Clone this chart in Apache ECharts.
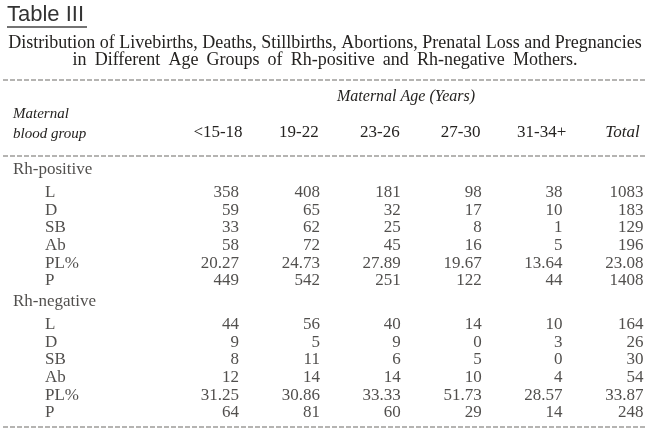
<!DOCTYPE html>
<html>
<head>
<meta charset="utf-8">
<script src="https://cdn.jsdelivr.net/npm/echarts@6/dist/echarts.min.js"></script>
<style>html,body{margin:0;padding:0;background:#fff}#c{width:650px;height:444px}</style>
</head>
<body>
<div id="c"></div>
<script>
// Table III — livebirths, deaths, stillbirths, abortions, prenatal loss, pregnancies by age & Rh
const ageGroups = ['<15-18','19-22','23-26','27-30','31-34+','Total'];
const measures = ['L','D','SB','Ab','PL%','P'];
const bloodGroups = ['Rh-positive','Rh-negative'];

const posL  = [358,408,181,98,38,1083];
const posD  = [59,65,32,17,10,183];
const posSB = [33,62,25,8,1,129];
const posAb = [58,72,45,16,5,196];
const posPL = [20.27,24.73,27.89,19.67,13.64,23.08];
const posP  = [449,542,251,122,44,1408];

const negL  = [44,56,40,14,10,164];
const negD  = [9,5,9,0,3,26];
const negSB = [8,11,6,5,0,30];
const negAb = [12,14,14,10,4,54];
const negPL = [31.25,30.86,33.33,51.73,28.57,33.87];
const negP  = [64,81,60,29,14,248];

const rows = [[posL,posD,posSB,posAb,posPL,posP],[negL,negD,negSB,negAb,negPL,negP]];

const INK = '#252321', SERIF = 'Liberation Serif, Times New Roman, serif';
// row layout in "row units": heading, small gap, then the six measures
const GROUP_STEP = 7.46, HEAD_GAP = 1.27;
const rowY = (g,k) => g*GROUP_STEP + (k<0 ? 0 : HEAD_GAP + k);
const fmtv = (m,v) => m==='PL%' ? v.toFixed(2) : String(v);

const cells = [], heads = [], items = [];
bloodGroups.forEach((b,g)=>{
  heads.push({value:[0,rowY(g,-1)], name:b});
  measures.forEach((m,k)=>{
    items.push({value:[0,rowY(g,k)], name:m});
    rows[g][k].forEach((v,i)=>cells.push({value:[i,rowY(g,k)], name:fmtv(m,v)}));
  });
});
const yMax = rowY(1,measures.length-1);

const lbl = {show:true,color:INK,fontFamily:SERIF,fontSize:17,formatter:p=>p.name,distance:0};
const dash = y => ({type:'line',shape:{x1:3,y1:y,x2:646,y2:y},
  style:{stroke:'#6d6a66',lineWidth:1.2,lineDash:[5,2]}});
const t = (text,left,top,extra) => ({text,left,top,padding:0,textStyle:Object.assign(
  {color:INK,fontFamily:SERIF,fontSize:18,fontWeight:'normal'},extra||{})});
// second subtitle line is set with wider word spacing in the original
const wide = s => s.split(' ').join(' \u2009');

const chart = echarts.init(document.getElementById('c'),null,{renderer:'canvas'});
chart.setOption({
  backgroundColor:'#fff',
  animation:false,
  title:[
    t('Table III',7,4,{fontFamily:'Liberation Sans, Arial, sans-serif',fontSize:22,color:'#333'}),
    t('Distribution of Livebirths, Deaths, Stillbirths, Abortions, Prenatal Loss and Pregnancies','center',34),
    t(wide('in Different Age Groups of Rh-positive and Rh-negative Mothers.'),'center',51),
    t('Maternal',13,107,{fontStyle:'italic',fontSize:15}),
    t('blood group',13,127,{fontStyle:'italic',fontSize:15}),
    t('Maternal Age (Years)',337,89,{fontStyle:'italic',fontSize:16})
  ],
  graphic:[
    {type:'line',shape:{x1:7,y1:27,x2:87,y2:27},style:{stroke:'#444',lineWidth:1.5}},
    dash(80),dash(156),dash(427)
  ],
  grid:[
    {left:239,right:6.5,top:170,bottom:444-413},
    {left:13,width:60,top:170,bottom:444-413}
  ],
  xAxis:[
    {type:'category',gridIndex:0,data:ageGroups,boundaryGap:false,position:'top',
      axisLine:{show:false},axisTick:{show:false},splitLine:{show:false},
      axisLabel:{margin:29,color:INK,fontFamily:SERIF,fontSize:17,padding:[0,42,0,0],
        formatter:v=>v==='Total'?'{i|Total}':v,
        rich:{i:{fontStyle:'italic',fontFamily:SERIF,fontSize:17,color:INK}}}},
    {type:'value',gridIndex:1,min:0,max:1,show:false}
  ],
  yAxis:[
    {type:'value',gridIndex:0,min:0,max:yMax,inverse:true,show:false},
    {type:'value',gridIndex:1,min:0,max:yMax,inverse:true,show:false}
  ],
  series:[
    {type:'scatter',xAxisIndex:0,yAxisIndex:0,symbolSize:0,data:cells,
      label:Object.assign({},lbl,{position:'left'})},
    {type:'scatter',xAxisIndex:1,yAxisIndex:1,symbolSize:0,data:heads,
      label:Object.assign({},lbl,{position:'right'})},
    {type:'scatter',xAxisIndex:1,yAxisIndex:1,symbolSize:0,data:items,
      label:Object.assign({},lbl,{position:'right',offset:[32,0]})}
  ]
});
</script>
</body>
</html>
